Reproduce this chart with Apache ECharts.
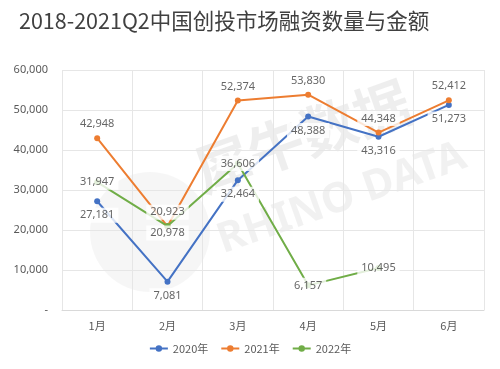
<!DOCTYPE html>
<html><head><meta charset="utf-8">
<script src="https://cdn.jsdelivr.net/npm/echarts@6/dist/echarts.min.js"></script>
<style>html,body{margin:0;padding:0;background:#fff}#c{width:500px;height:369px}</style>
</head><body><div id="c"></div>
<script>
const titleText = '2018-2021Q2中国创投市场融资数量与金额';
const categories = ['1月','2月','3月','4月','5月','6月'];
const seriesNames = ['2020年','2021年','2022年'];
const values2020 = [27181, 7081, 32464, 48388, 43316, 51273];
const values2021 = [42948, 20923, 52374, 53830, 44348, 52412];
const values2022 = [31947, 20978, 36606, 6157, 10495];
const yTicks = [0, 10000, 20000, 30000, 40000, 50000, 60000];

const colors = ['#4472C4', '#ED7D31', '#70AD47'];
const fmt = v => v.toLocaleString('en-US');
const labelBase = {
  show: true, color: '#404040', fontSize: 11, fontFamily: 'Noto Sans',
  backgroundColor: '#ffffff', padding: [2, 4], formatter: p => fmt(p.value)
};
function lineSeries(name, data, color) {
  return {
    name, type: 'line', data, z: 2,
    symbol: 'circle', symbolSize: 6, showSymbol: true,
    itemStyle: { color }, lineStyle: { color, width: 2 },
    label: { show: false }, emphasis: { disabled: true }
  };
}
function labelSeries(name, data, pos, dist, overrides) {
  return {
    name: name + '-label', type: 'scatter', z: 5, silent: true,
    data: data.map((v, i) => {
      const o = overrides && overrides[i];
      return o ? { value: v, label: o } : v;
    }),
    symbolSize: 1, itemStyle: { color: 'rgba(0,0,0,0)' },
    label: Object.assign({}, labelBase, { position: pos, distance: dist }),
    emphasis: { disabled: true }
  };
}
const chart = echarts.init(document.getElementById('c'), null, { renderer: 'canvas' });
chart.setOption({
  animation: false,
  title: { text: titleText, left: 14, top: 5,
    textStyle: { fontSize: 21.5, fontWeight: 'normal', color: '#404040', fontFamily: 'Noto Sans CJK SC' } },
  grid: { left: 62, right: 16, top: 70, bottom: 59 },
  legend: { data: seriesNames, bottom: 10, left: 'center', itemWidth: 18, itemHeight: 8, itemGap: 12,
    textStyle: { fontSize: 11, color: '#595959', fontFamily: 'Noto Sans CJK SC' } },
  graphic: [
    { type: 'circle', shape: { cx: 150, cy: 232, r: 60 }, z: -1, silent: true,
      style: { fill: 'rgba(0,0,0,0.035)' } },
    { type: 'text', x: 206, y: 200, rotation: 0.34, z: -1, silent: true,
      style: { text: '犀牛数据', font: 'bold 56px "Noto Sans CJK SC"', fill: 'rgba(0,0,0,0.065)', verticalAlign: 'bottom' } },
    { type: 'text', x: 226, y: 262, rotation: 0.34, z: -1, silent: true,
      style: { text: 'RHINO DATA', font: 'bold 42px "Noto Sans"', fill: 'rgba(0,0,0,0.055)', verticalAlign: 'bottom' } }
  ],
  xAxis: { type: 'category', data: categories, boundaryGap: true,
    axisLine: { lineStyle: { color: '#d9d9d9' } }, axisTick: { show: false },
    axisLabel: { color: '#595959', fontSize: 11, margin: 10, fontFamily: 'Noto Sans CJK SC' },
    splitLine: { show: true, lineStyle: { color: '#e6e6e6' } } },
  yAxis: { type: 'value', min: yTicks[0], max: yTicks[yTicks.length - 1], interval: 10000,
    axisLine: { show: false }, axisTick: { show: false },
    axisLabel: { color: '#595959', fontSize: 11, margin: 14, fontFamily: 'Noto Sans',
      formatter: v => v === 0 ? '-' : fmt(v) },
    splitLine: { lineStyle: { color: '#e6e6e6' } } },
  series: [
    lineSeries(seriesNames[0], values2020, colors[0]),
    lineSeries(seriesNames[1], values2021, colors[1]),
    lineSeries(seriesNames[2], values2022, colors[2]),
    labelSeries(seriesNames[0], values2020, 'bottom', 6),
    labelSeries(seriesNames[1], values2021, 'top', 6),
    labelSeries(seriesNames[2], values2022, 'inside', 0, { 1: { offset: [0, 7] } })
  ]
});
</script></body></html>
